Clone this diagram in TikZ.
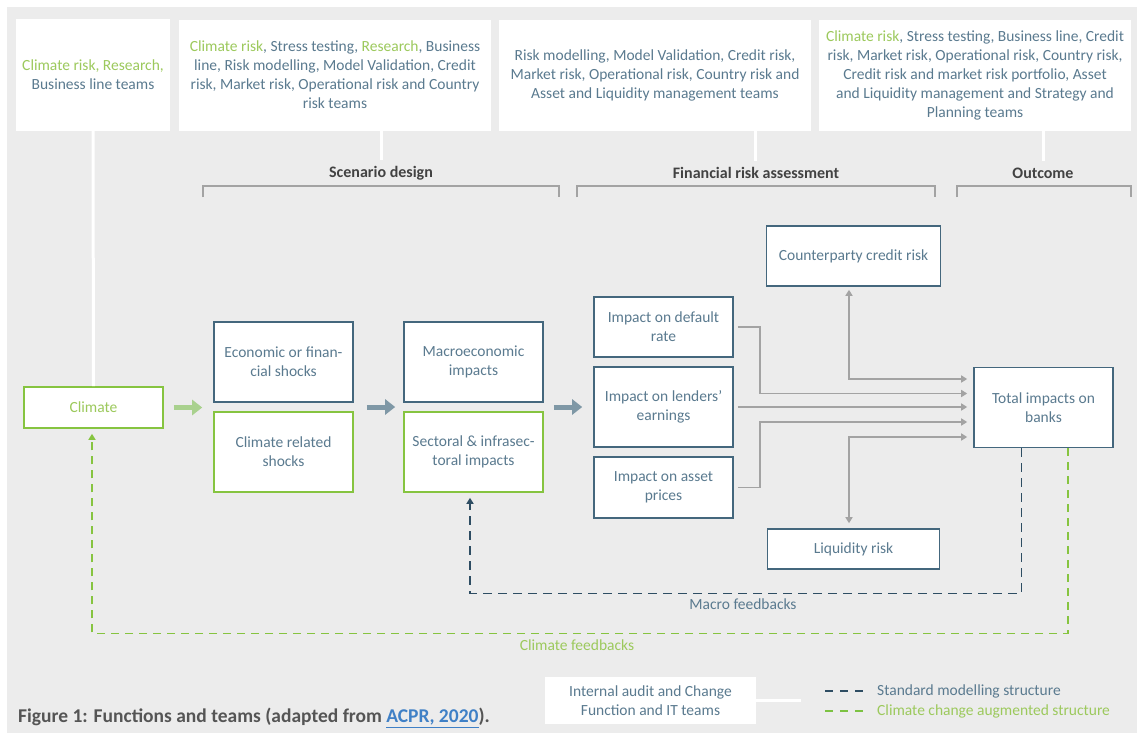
\documentclass[tikz,border=0pt]{standalone}
\usepackage{fontspec}
\setmainfont{Carlito}
\usetikzlibrary{arrows.meta,calc}
\definecolor{bg}{HTML}{ECECEC}
\definecolor{navy}{HTML}{44677D}
\definecolor{txt}{HTML}{5A7A8F}
\definecolor{grn}{HTML}{86C440}
\definecolor{gtxt}{HTML}{9CC95C}
\definecolor{garr}{HTML}{A9D18E}
\definecolor{barr}{HTML}{7F98A6}
\definecolor{lgrey}{HTML}{A3A3A3}
\definecolor{dgrey}{HTML}{424242}
\definecolor{mdash}{HTML}{2E4D63}
\definecolor{cdash}{HTML}{7CC242}
\definecolor{linkc}{HTML}{3F80C6}
\newcommand{\G}[1]{\textcolor{gtxt}{#1}}
\tikzset{
  topbox/.style={fill=white, draw=none, inner sep=0, align=center, text=txt, minimum width=312, minimum height=111},
  navybox/.style={fill=white, draw=navy, line width=1.6, inner sep=0, align=center, text=txt, minimum width=139},
  grnbox/.style={fill=white, draw=grn, line width=1.6, inner sep=0, align=center, text=txt, minimum width=139},
  wline/.style={draw=white, line width=3},
  sect/.style={font=\fontsize{16}{19}\selectfont\bfseries, text=dgrey, inner sep=0},
  brack/.style={draw=lgrey, line width=1.2},
  bigarrow/.style={line width=5, -{Triangle[length=10, width=15]}},
  garrow/.style={draw=lgrey, line width=1.6, -{Triangle[length=6, width=7]}},
  gboth/.style={draw=lgrey, line width=1.6, {Triangle[length=6, width=7]}-{Triangle[length=6, width=7]}},
  mdashed/.style={draw=mdash, line width=1.5, dash pattern=on 9 off 6},
  cdashed/.style={draw=cdash, line width=1.5, dash pattern=on 8 off 6},
  lbl/.style={inner sep=0, align=center}
}
\begin{document}
\begin{tikzpicture}[x=1pt,y=-1pt, font=\fontsize{15.5}{19}\selectfont]
\useasboundingbox (0,0) rectangle (1137,736);
\fill[bg] (7,7) rectangle (1137,733);

% top team boxes
\node[topbox, minimum width=154, minimum height=112] (t1) at (93,75)
  {\G{Climate risk, Research,}\\Business line teams};
\node[topbox] (t2) at (335,75)
  {\G{Climate risk}, Stress testing, \G{Research}, Business\\line, Risk modelling, Model Validation, Credit\\risk, Market risk, Operational risk and Country\\risk teams};
\node[topbox] (t3) at (655,75)
  {Risk modelling, Model Validation, Credit risk,\\Market risk, Operational risk, Country risk and\\Asset and Liquidity management teams};
\node[topbox] (t4) at (975,75)
  {\G{Climate risk}, Stress testing, Business line, Credit\\risk, Market risk, Operational risk, Country risk,\\Credit risk and market risk portfolio, Asset\\and Liquidity management and Strategy and\\Planning teams};

% section labels
\node[sect] (s1) at (381,173) {Scenario design};
\node[sect] (s2) at (756,173) {Financial risk assessment};
\node[sect] (s3) at (1043,173) {Outcome};
\draw[brack] (203,197) -- (203,186) -- (559,186) -- (559,197);
\draw[brack] (577,197) -- (577,186) -- (935,186) -- (935,197);
\draw[brack] (957,197) -- (957,186) -- (1131,186) -- (1131,197);

% main nodes
\node[grnbox, minimum height=41, text=gtxt] (clim) at (93.5,407.5) {Climate};
\node[navybox, minimum height=80] (eco) at (283.5,362) {Economic or finan-\\cial shocks};
\node[grnbox, minimum height=80] (crs) at (283.5,452) {Climate related\\shocks};
\node[navybox, minimum height=80] (mac) at (473.5,362) {Macroeconomic\\impacts};
\node[grnbox, minimum height=80] (sec) at (473.5,452) {Sectoral \& infrasec-\\toral impacts};
\node[navybox, minimum height=60] (dr) at (663.5,327) {Impact on default\\rate};
\node[navybox, minimum height=80] (le) at (663.5,407) {Impact on lenders’\\earnings};
\node[navybox, minimum height=61] (ap) at (663.5,487.5) {Impact on asset\\prices};
\node[navybox, minimum width=174, minimum height=60] (cp) at (853.5,256) {Counterparty credit risk};
\node[navybox, minimum width=172, minimum height=40] (lq) at (853.5,549) {Liquidity risk};
\node[navybox, minimum height=80] (tot) at (1043.5,407.5) {Total impacts on\\banks};

% white team connectors
\draw[wline] (t1.south) -- (clim.north);
\coordinate (e2) at (381,160);
\coordinate (e3) at (755,161);
\coordinate (e4) at (1043,161);
\draw[wline] (t2.south -| e2) -- (e2);
\draw[wline] (t3.south -| e3) -- (e3);
\draw[wline] (t4.south -| e4) -- (e4);

% big arrows
\draw[bigarrow, garr] ([xshift=10]clim.east) -- ([xshift=-11]eco.west |- clim.east);
\draw[bigarrow, barr] ([xshift=13]eco.east |- le.west) -- ([xshift=-8]mac.west |- le.west);
\draw[bigarrow, barr] ([xshift=10]mac.east |- le.west) -- ([xshift=-11]le.west);

% grey connectors into total
\draw[garrow] ([xshift=4]dr.east) -- ++(22,0) |- ([xshift=-6,yshift=14]tot.west);
\draw[garrow] ([xshift=4]le.east) -- ([xshift=-6]tot.west |- le.east);
\draw[garrow] ([xshift=4]ap.east) -- ++(22,0) |- ([xshift=-6,yshift=-14.5]tot.west);
\draw[gboth] ([xshift=-4.5,yshift=-3]cp.south) |- ([xshift=-6,yshift=28.5]tot.west);
\draw[gboth] ([xshift=-4.5,yshift=5]lq.north) |- ([xshift=-6,yshift=-29.5]tot.west);

% feedbacks
\draw[mdashed, -{Triangle[length=6, width=7]}] ([xshift=-22]tot.south) -- ++(0,145) -| ([xshift=-3.5,yshift=-5]sec.south);
\draw[cdashed, -{Triangle[length=6, width=7]}, grn] ([xshift=24.5]tot.south) -- ++(0,185) -| ([xshift=-1.5,yshift=-5]clim.south);
\node[lbl, text=txt] (mf) at (743,604) {Macro feedbacks};
\node[lbl, text=gtxt] (cf) at (577,645) {Climate feedbacks};

% bottom
\node[topbox, minimum width=211, minimum height=47] (ia) at (650.5,700.5) {Internal audit and Change\\Function and IT teams};
\coordinate (iae) at (801,700.5);
\draw[wline] (ia.east) -- (iae);
\coordinate (l1a) at (825,691);
\coordinate (l1b) at (863,691);
\coordinate (l2a) at (825,711);
\coordinate (l2b) at (863,711);
\draw[mdashed, dash pattern=on 8 off 7] (l1a) -- (l1b);
\draw[cdashed, dash pattern=on 8 off 7] (l2a) -- (l2b);
\node[lbl, anchor=west, text=txt] (lg1) at (877,691) {Standard modelling structure};
\node[lbl, anchor=west, text=gtxt] (lg2) at (877,711) {Climate change augmented structure};
\node[lbl, anchor=west, text=dgrey!90, font=\fontsize{19.5}{22}\selectfont\bfseries] (cap) at (18,718)
  {Figure 1: Functions and teams (adapted from \textcolor{linkc}{\underline{ACPR, 2020}}).};
\end{tikzpicture}
\end{document}
